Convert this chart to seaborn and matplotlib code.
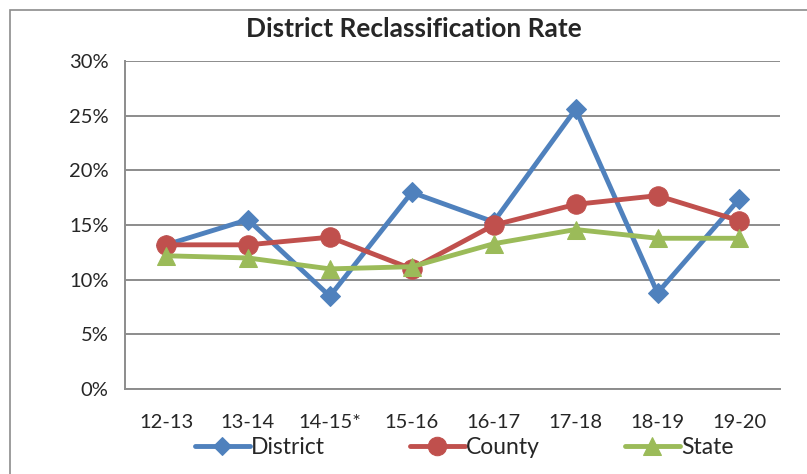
import pandas as pd
import matplotlib.pyplot as plt
import seaborn as sns
from matplotlib.patches import Rectangle
from matplotlib.ticker import FuncFormatter, FixedLocator

# Chart values (percent)
years = ["12-13", "13-14", "14-15*", "15-16", "16-17", "17-18", "18-19", "19-20"]
district = [13.2, 15.5, 8.5, 18.0, 15.3, 25.6, 8.8, 17.4]
county = [13.2, 13.2, 13.9, 11.0, 15.0, 16.9, 17.7, 15.4]
state = [12.2, 12.0, 11.0, 11.2, 13.3, 14.6, 13.8, 13.8]

series = {"District": district, "County": county, "State": state}
colors = {"District": "#4F81BD", "County": "#C0504D", "State": "#9BBB59"}
markers = {"District": "D", "County": "o", "State": "^"}
msizes = {"District": 10, "County": 14, "State": 13}

df = pd.DataFrame(
    [(y, name, v) for name, vals in series.items() for y, v in zip(years, vals)],
    columns=["Year", "Series", "Rate"],
)

sns.set_style("white")
plt.rcParams["font.family"] = ["Lato", "DejaVu Sans"]

fig = plt.figure(figsize=(8.07, 4.74), dpi=100)
ax = fig.add_axes([0.155, 0.179, 0.812, 0.692])

# outer chart border
fig.patches.append(Rectangle((10 / 807, -0.1), 1.2, 1 - 10 / 474 + 0.1,
                             transform=fig.transFigure, fill=False,
                             edgecolor="#8c8c8c", linewidth=1.2))

for name in series:
    sub = df[df["Series"] == name]
    sns.lineplot(data=sub, x="Year", y="Rate", ax=ax, color=colors[name],
                 marker=markers[name], markersize=msizes[name],
                 markeredgecolor=colors[name], linewidth=3.5, label=name,
                 sort=False, zorder=3)

ax.set_xlim(-0.5, 7.5)
ax.set_ylim(0, 30)
ax.set_yticks(range(0, 31, 5))
ax.yaxis.set_major_formatter(FuncFormatter(lambda v, p: f"{int(v)}%"))
ax.grid(axis="y", color="#8c8c8c", linewidth=1.4)
ax.set_axisbelow(True)
ax.set_xlabel("")
ax.set_ylabel("")

# category boundary ticks
ax.set_xticks(range(len(years)))
ax.set_xticklabels(years, fontsize=14.5)
ax.xaxis.set_minor_locator(FixedLocator([i - 0.5 for i in range(len(years) + 1)]))
ax.tick_params(axis="x", which="major", length=0, pad=18)
ax.tick_params(axis="x", which="minor", length=7, color="#8c8c8c", width=1.2, direction="out")
ax.tick_params(axis="y", labelsize=14.5, length=6, color="#8c8c8c", width=1.2, direction="out", pad=6)

for side in ["top", "right"]:
    ax.spines[side].set_visible(False)
for side in ["left", "bottom"]:
    ax.spines[side].set_color("#8c8c8c")
    ax.spines[side].set_linewidth(1.4)

fig.text(0.513, 1 - 29 / 474, "District Reclassification Rate", fontsize=19,
         fontweight="bold", ha="center", va="center")

handles, labels = ax.get_legend_handles_labels()
ax.legend(handles, labels, loc="center", bbox_to_anchor=(0.575, 0.055),
          bbox_transform=fig.transFigure, ncol=3, frameon=False,
          fontsize=16.5, handlelength=2.4, handletextpad=0.05, columnspacing=3.7,
          markerscale=0.95)

fig.savefig("out.png", dpi=100)
